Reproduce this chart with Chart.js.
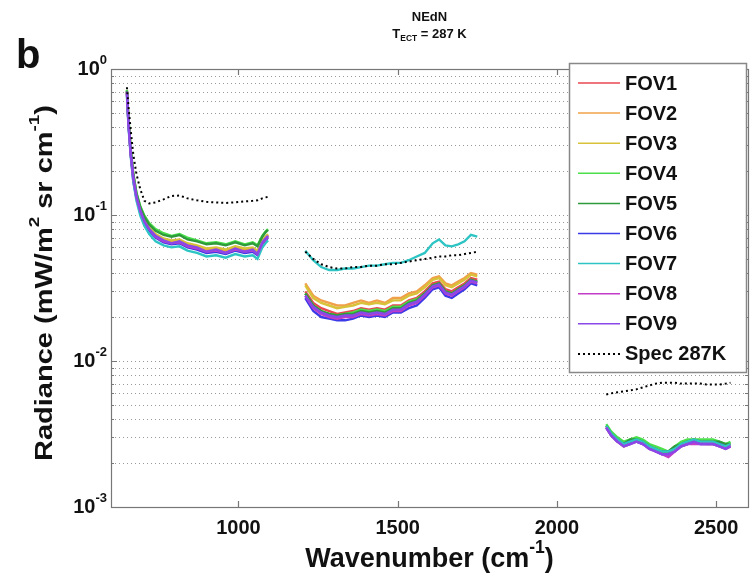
<html>
<head>
<style>
  body { margin: 0; background: #fff; }
</style>
</head>
<body>
<canvas id="myChart" width="752" height="580"></canvas>
<script src="https://cdn.jsdelivr.net/npm/chart.js@4.4.0/dist/chart.umd.min.js"></script>
<script>
// wavenumber grid of the three bands (cm-1)
const wn1 = [650, 655, 662, 670, 680, 692, 705, 720, 740, 765, 790, 815, 840, 870, 900, 930, 960, 990, 1020, 1045, 1060, 1075, 1085, 1093];
const wn2 = [1210, 1235, 1260, 1285, 1310, 1335, 1360, 1385, 1410, 1435, 1460, 1485, 1510, 1535, 1560, 1585, 1610, 1630, 1650, 1670, 1690, 1710, 1730, 1750];
const wn3 = [2155, 2170, 2190, 2210, 2230, 2250, 2270, 2290, 2310, 2330, 2350, 2370, 2390, 2410, 2430, 2450, 2470, 2490, 2510, 2530, 2545];

// NEdN per FOV (band1, band2, band3 in a row)
const fov1 = [0.70, 0.43, 0.27, 0.18, 0.135, 0.108, 0.092, 0.081, 0.073, 0.068, 0.066, 0.067, 0.063, 0.061, 0.058, 0.059, 0.057, 0.060, 0.058, 0.059, 0.056, 0.066, 0.070, 0.073,
  0.030, 0.025, 0.023, 0.022, 0.021, 0.0215, 0.022, 0.023, 0.0225, 0.023, 0.0225, 0.024, 0.024, 0.026, 0.027, 0.030, 0.034, 0.035, 0.031, 0.030, 0.032, 0.034, 0.037, 0.036,
  0.0036, 0.0032, 0.0029, 0.0027, 0.0028, 0.0029, 0.0028, 0.0026, 0.0025, 0.0024, 0.0023, 0.0025, 0.0027, 0.0028, 0.00285, 0.0028, 0.0028, 0.0028, 0.0027, 0.0026, 0.0027];
const fov2 = [0.69, 0.42, 0.26, 0.18, 0.134, 0.107, 0.091, 0.080, 0.072, 0.067, 0.065, 0.066, 0.062, 0.060, 0.057, 0.058, 0.056, 0.059, 0.057, 0.058, 0.055, 0.065, 0.069, 0.072,
  0.034, 0.028, 0.026, 0.025, 0.024, 0.024, 0.025, 0.026, 0.025, 0.026, 0.025, 0.027, 0.027, 0.029, 0.030, 0.033, 0.037, 0.038, 0.034, 0.033, 0.035, 0.037, 0.040, 0.039,
  0.0035, 0.0031, 0.0028, 0.0026, 0.0027, 0.0029, 0.0027, 0.0026, 0.0025, 0.0024, 0.0023, 0.0025, 0.0026, 0.0027, 0.0028, 0.0028, 0.0027, 0.0027, 0.0026, 0.0026, 0.0027];
const fov3 = [0.71, 0.43, 0.27, 0.19, 0.137, 0.110, 0.093, 0.082, 0.074, 0.069, 0.067, 0.068, 0.064, 0.062, 0.059, 0.060, 0.058, 0.061, 0.059, 0.060, 0.057, 0.067, 0.071, 0.074,
  0.033, 0.027, 0.025, 0.024, 0.023, 0.0235, 0.024, 0.025, 0.0245, 0.025, 0.0245, 0.026, 0.026, 0.028, 0.029, 0.032, 0.036, 0.037, 0.033, 0.032, 0.034, 0.036, 0.039, 0.038,
  0.0036, 0.0032, 0.0029, 0.0026, 0.0028, 0.0029, 0.0028, 0.0026, 0.0025, 0.0024, 0.00235, 0.0025, 0.0027, 0.0028, 0.0029, 0.0028, 0.0028, 0.0028, 0.0027, 0.0026, 0.0027];
const fov4 = [0.72, 0.45, 0.28, 0.19, 0.142, 0.115, 0.099, 0.088, 0.080, 0.075, 0.072, 0.074, 0.070, 0.067, 0.064, 0.065, 0.063, 0.066, 0.063, 0.065, 0.062, 0.072, 0.077, 0.080,
  0.029, 0.024, 0.022, 0.021, 0.0205, 0.021, 0.0215, 0.0225, 0.022, 0.0225, 0.022, 0.0235, 0.0235, 0.0255, 0.0265, 0.029, 0.033, 0.034, 0.030, 0.029, 0.031, 0.033, 0.036, 0.035,
  0.0037, 0.0033, 0.0030, 0.0028, 0.0029, 0.0030, 0.0029, 0.0027, 0.0026, 0.0025, 0.0024, 0.0026, 0.0028, 0.0029, 0.0029, 0.0029, 0.0029, 0.0029, 0.0028, 0.0027, 0.0028];
const fov5 = [0.71, 0.44, 0.28, 0.19, 0.140, 0.113, 0.097, 0.086, 0.078, 0.073, 0.071, 0.073, 0.068, 0.066, 0.063, 0.064, 0.062, 0.065, 0.062, 0.064, 0.061, 0.071, 0.076, 0.079,
  0.029, 0.024, 0.022, 0.021, 0.0205, 0.021, 0.021, 0.022, 0.0215, 0.022, 0.0215, 0.023, 0.023, 0.025, 0.026, 0.029, 0.033, 0.034, 0.030, 0.029, 0.031, 0.033, 0.036, 0.035,
  0.0036, 0.0032, 0.0029, 0.0027, 0.0029, 0.0029, 0.0028, 0.0026, 0.0025, 0.0024, 0.0024, 0.0026, 0.0027, 0.0028, 0.0029, 0.0028, 0.0028, 0.0028, 0.0028, 0.0027, 0.0027];
const fov6 = [0.68, 0.41, 0.26, 0.17, 0.130, 0.104, 0.088, 0.078, 0.070, 0.065, 0.063, 0.064, 0.060, 0.058, 0.055, 0.056, 0.054, 0.057, 0.055, 0.056, 0.053, 0.063, 0.067, 0.070,
  0.027, 0.022, 0.020, 0.0195, 0.019, 0.019, 0.0195, 0.0205, 0.020, 0.0205, 0.020, 0.0215, 0.0215, 0.023, 0.024, 0.027, 0.031, 0.032, 0.028, 0.027, 0.029, 0.031, 0.034, 0.033,
  0.0035, 0.0031, 0.0028, 0.0027, 0.0028, 0.0028, 0.0027, 0.0026, 0.0024, 0.0023, 0.0023, 0.0024, 0.0026, 0.0027, 0.0028, 0.0027, 0.0027, 0.0027, 0.0027, 0.0026, 0.0026];
const fov7 = [0.66, 0.40, 0.25, 0.17, 0.125, 0.099, 0.084, 0.074, 0.066, 0.062, 0.060, 0.061, 0.057, 0.055, 0.052, 0.053, 0.051, 0.054, 0.052, 0.053, 0.050, 0.060, 0.064, 0.067,
  0.057, 0.049, 0.044, 0.042, 0.042, 0.043, 0.043, 0.044, 0.045, 0.045, 0.046, 0.047, 0.047, 0.049, 0.052, 0.055, 0.064, 0.068, 0.062, 0.061, 0.063, 0.066, 0.073, 0.071,
  0.0036, 0.0032, 0.0029, 0.0027, 0.0028, 0.0029, 0.0028, 0.0026, 0.0025, 0.0024, 0.0024, 0.0025, 0.0027, 0.0028, 0.0029, 0.0028, 0.0028, 0.0028, 0.0027, 0.0026, 0.0027];
const fov8 = [0.69, 0.42, 0.26, 0.18, 0.132, 0.106, 0.090, 0.080, 0.071, 0.066, 0.064, 0.065, 0.061, 0.059, 0.056, 0.057, 0.055, 0.058, 0.056, 0.057, 0.054, 0.064, 0.068, 0.071,
  0.028, 0.023, 0.021, 0.020, 0.0195, 0.020, 0.020, 0.021, 0.0205, 0.021, 0.0205, 0.022, 0.022, 0.024, 0.025, 0.028, 0.032, 0.033, 0.029, 0.028, 0.030, 0.032, 0.035, 0.034,
  0.0035, 0.0031, 0.0028, 0.0026, 0.0027, 0.0028, 0.0027, 0.0025, 0.0024, 0.0023, 0.0022, 0.0024, 0.0026, 0.0027, 0.0027, 0.0027, 0.0027, 0.0027, 0.0026, 0.0025, 0.0026];
const fov9 = [0.70, 0.42, 0.26, 0.18, 0.133, 0.107, 0.090, 0.080, 0.072, 0.067, 0.064, 0.066, 0.062, 0.060, 0.056, 0.058, 0.055, 0.059, 0.056, 0.058, 0.054, 0.065, 0.069, 0.072,
  0.028, 0.0235, 0.0215, 0.0205, 0.020, 0.0205, 0.0205, 0.0215, 0.021, 0.0215, 0.021, 0.0225, 0.0225, 0.0245, 0.0255, 0.0285, 0.0325, 0.0335, 0.0295, 0.0285, 0.0305, 0.0325, 0.0355, 0.0345,
  0.0035, 0.0031, 0.0028, 0.0026, 0.0027, 0.0028, 0.0027, 0.0025, 0.0024, 0.0023, 0.0023, 0.0024, 0.0026, 0.0027, 0.0028, 0.0027, 0.0027, 0.0027, 0.0026, 0.0025, 0.0026];
// spec at 287K
const spec = [0.75, 0.55, 0.38, 0.26, 0.19, 0.15, 0.125, 0.120, 0.122, 0.128, 0.135, 0.136, 0.130, 0.126, 0.123, 0.122, 0.121, 0.122, 0.124, 0.125, 0.126, 0.130, 0.132, 0.133,
  0.056, 0.050, 0.046, 0.044, 0.043, 0.043, 0.044, 0.044, 0.045, 0.045, 0.046, 0.046, 0.047, 0.048, 0.049, 0.050, 0.051, 0.052, 0.052, 0.053, 0.053, 0.054, 0.055, 0.056,
  0.0059, 0.0060, 0.0061, 0.0062, 0.0063, 0.0064, 0.0066, 0.0068, 0.0070, 0.0071, 0.0071, 0.0071, 0.0070, 0.0070, 0.0070, 0.0070, 0.0069, 0.0069, 0.0069, 0.0070, 0.0071];

const labels = ["FOV1", "FOV2", "FOV3", "FOV4", "FOV5", "FOV6", "FOV7", "FOV8", "FOV9", "Spec 287K"];
const colors = ["#e8474f", "#f0a04a", "#d8c23a", "#4be04b", "#2e9a3c", "#3a3ae8", "#2ec4c4", "#c23cc8", "#8a48e8", "#000000"];
const xTicks = [1000, 1500, 2000, 2500];
const yTicks = [0.001, 0.002, 0.003, 0.004, 0.005, 0.006, 0.007, 0.008, 0.009,
  0.01, 0.02, 0.03, 0.04, 0.05, 0.06, 0.07, 0.08, 0.09,
  0.1, 0.2, 0.3, 0.4, 0.5, 0.6, 0.7, 0.8, 0.9, 1];
const yMajor = [0.001, 0.01, 0.1, 1];

const wn = wn1.concat(wn2, wn3);
function toPoints(vals) {
  const pts = [];
  wn.forEach((x, i) => {
    if (i > 0 && x - wn[i - 1] > 100) pts.push({x: (x + wn[i - 1]) / 2, y: null});
    pts.push({x: x, y: vals[i]});
  });
  return pts;
}

const series = [fov1, fov2, fov3, fov4, fov5, fov6, fov7, fov8, fov9, spec];
const datasets = series.map((s, i) => ({
  label: labels[i],
  data: toPoints(s),
  borderColor: colors[i],
  borderWidth: i == 9 ? 2 : 2.4,
  borderDash: i == 9 ? [2, 3] : [],
  pointRadius: 0,
  spanGaps: false,
  order: i == 9 ? 0 : 10 - i
}));

const FONT = '"Liberation Sans", Arial, sans-serif';

// text with superscript / subscript pieces
function richText(c, parts, x, y, size, align) {
  let w = 0;
  parts.forEach(p => {
    c.font = 'bold ' + (p.s ? size * 0.65 : size) + 'px ' + FONT;
    p.w = c.measureText(p.t).width;
    w += p.w;
  });
  let cx = align == 'center' ? x - w / 2 : (align == 'right' ? x - w : x);
  parts.forEach(p => {
    c.font = 'bold ' + (p.s ? size * 0.65 : size) + 'px ' + FONT;
    c.textAlign = 'left';
    c.textBaseline = 'middle';
    let dy = p.s == 'up' ? -size * 0.45 : (p.s == 'down' ? size * 0.35 : 0);
    c.fillText(p.t, cx, y + dy);
    cx += p.w;
  });
}

const decor = {
  id: 'decor',
  beforeDatasetsDraw(chart) {
    const c = chart.ctx, a = chart.chartArea, ys = chart.scales.y;
    c.save();
    c.strokeStyle = '#9a9a9a';
    c.lineWidth = 1;
    c.setLineDash([1, 3]);
    yTicks.forEach(v => {
      const py = Math.round(ys.getPixelForValue(v)) + 0.5;
      if (py < a.top + 2 || py > a.bottom - 2) return;
      c.beginPath();
      c.moveTo(a.left, py);
      c.lineTo(a.right, py);
      c.stroke();
    });
    c.restore();
  },
  afterDraw(chart) {
    const c = chart.ctx, a = chart.chartArea, xs = chart.scales.x, ys = chart.scales.y;
    c.save();
    c.fillStyle = '#111';
    // axes box
    c.strokeStyle = '#777';
    c.lineWidth = 1.2;
    c.strokeRect(a.left + 0.5, a.top + 0.5, a.right - a.left, a.bottom - a.top);
    // inward tick marks
    xTicks.forEach(v => {
      const px = Math.round(xs.getPixelForValue(v)) + 0.5;
      c.beginPath();
      c.moveTo(px, a.bottom); c.lineTo(px, a.bottom - 6);
      c.moveTo(px, a.top); c.lineTo(px, a.top + 6);
      c.stroke();
    });
    yTicks.forEach(v => {
      const py = Math.round(ys.getPixelForValue(v)) + 0.5;
      const len = yMajor.includes(v) ? 6 : 3;
      c.beginPath();
      c.moveTo(a.left, py); c.lineTo(a.left + len, py);
      c.moveTo(a.right, py); c.lineTo(a.right - len, py);
      c.stroke();
    });
    // y tick labels 10^n
    yMajor.forEach(v => {
      const py = ys.getPixelForValue(v);
      const e = Math.round(Math.log10(v));
      richText(c, [{t: '10'}, {t: String(e), s: 'up'}], a.left - 4, py, 20, 'right');
    });
    // panel letter
    c.font = 'bold 40px ' + FONT;
    c.textAlign = 'left';
    c.textBaseline = 'alphabetic';
    c.fillText('b', 16, 68);
    // title
    const mid = (a.left + a.right) / 2;
    richText(c, [{t: 'NEdN'}], mid, 17, 13, 'center');
    richText(c, [{t: 'T'}, {t: 'ECT', s: 'down'}, {t: ' = 287 K'}], mid, 34, 13, 'center');
    // x label
    richText(c, [{t: 'Wavenumber (cm'}, {t: '-1', s: 'up'}, {t: ')'}], mid, 560, 27, 'center');
    // y label (a bit condensed like the source)
    c.save();
    c.translate(45, 283);
    c.rotate(-Math.PI / 2);
    c.scale(1, 0.82);
    richText(c, [{t: 'Radiance (mW/m'}, {t: '2', s: 'up'}, {t: ' sr cm'}, {t: '-1', s: 'up'}, {t: ')'}], 0, 0, 29, 'center');
    c.restore();
    // legend
    const lx = 569, ly = 63, lw = 177, lh = 309;
    c.fillStyle = '#fff';
    c.fillRect(lx, ly, lw, lh);
    c.strokeStyle = '#888';
    c.lineWidth = 1.5;
    c.setLineDash([]);
    c.strokeRect(lx + 0.5, ly + 0.5, lw, lh);
    labels.forEach((lab, i) => {
      const yy = ly + 20 + i * 30.1;
      c.strokeStyle = colors[i];
      c.lineWidth = i == 9 ? 2 : 1.5;
      c.setLineDash(i == 9 ? [2, 3] : []);
      c.beginPath();
      c.moveTo(lx + 9, yy); c.lineTo(lx + 51, yy);
      c.stroke();
      c.fillStyle = '#111';
      richText(c, [{t: lab}], lx + 56, yy + 1, 20, 'left');
    });
    c.restore();
  }
};

const ctx = document.getElementById('myChart').getContext('2d');
const myChart = new Chart(ctx, {
  type: 'line',
  data: { datasets: datasets },
  options: {
    responsive: false,
    animation: false,
    layout: { padding: { top: 69, right: 4, left: 0, bottom: 0 } },
    plugins: { legend: { display: false }, tooltip: { enabled: false } },
    elements: { line: { tension: 0 } },
    scales: {
      x: {
        type: 'linear', min: 600, max: 2600,
        afterBuildTicks: s => { s.ticks = xTicks.map(v => ({value: v})); },
        afterFit: s => { s.height = 73; },
        grid: { display: false, drawTicks: false },
        border: { display: false },
        ticks: { color: '#111', padding: 9, maxRotation: 0, callback: v => String(v), font: { family: FONT, size: 20, weight: 'bold' } }
      },
      y: {
        type: 'logarithmic', min: 0.001, max: 1,
        afterBuildTicks: s => { s.ticks = yTicks.map(v => ({value: v})); },
        afterFit: s => { s.width = 111; },
        grid: { display: false },
        border: { display: false },
        ticks: { display: false }
      }
    }
  },
  plugins: [decor]
});
</script>
</body>
</html>
